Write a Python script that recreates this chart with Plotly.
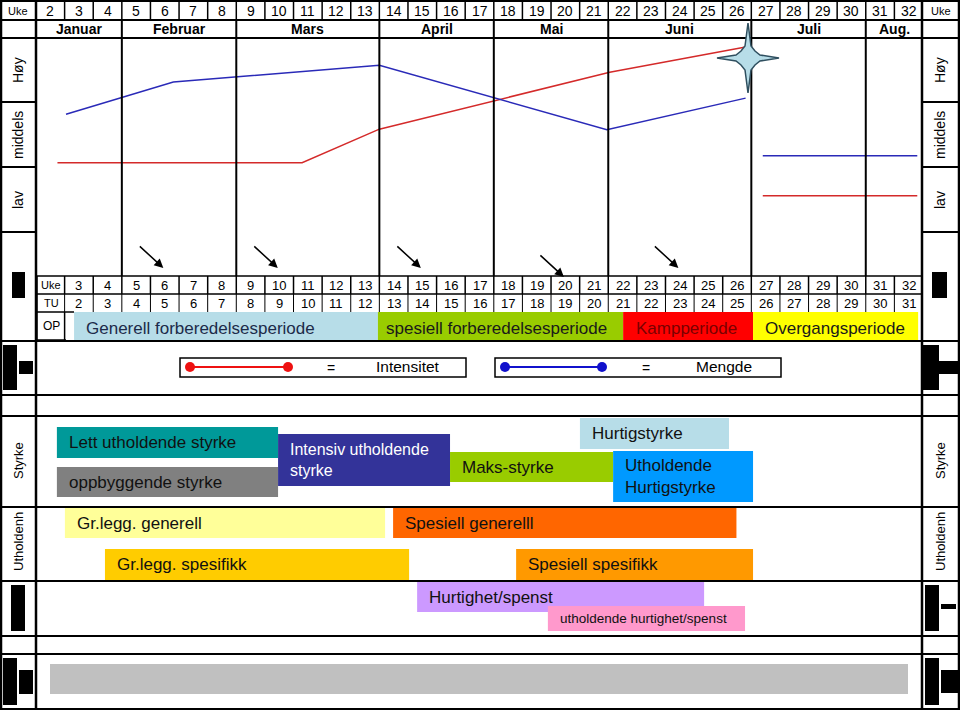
import plotly.graph_objects as go

# ---------------- data ----------------
WEEKS_TOP = list(range(2, 33))
WEEKS_MID = list(range(3, 33))
TU_WEEKS = list(range(2, 32))
MONTHS = ["Januar", "Februar", "Mars", "April", "Mai", "Juni", "Juli", "Aug."]
MONTH_FIRST = [2, 5, 9, 14, 18, 22, 27, 31]
MONTH_LAST = [4, 8, 13, 17, 21, 26, 30, 32]

# intensity (red) and volume (blue); level 0..3 (lav / middels / høy)
RED_W = [2.25, 10.8, 13.5, 21.55, 26.3]
RED_L = [1.07, 1.07, 1.59, 2.47, 2.86]
BLUE_W = [2.55, 6.3, 13.5, 21.45, 26.3]
BLUE_L = [1.82, 2.32, 2.58, 1.58, 2.07]
TRANS_W = [26.9, 32.3]
TRANS_RED = [0.56, 0.56]
TRANS_BLUE = [1.18, 1.18]

ARROW_WEEKS = [6, 10, 15, 20, 24]

PERIODS = ["Generell forberedelsesperiode", "spesiell forberedelsesperiode",
           "Kampperiode", "Overgangsperiode"]
PERIOD_START = [2.83, 13.45, 22.02, 26.56]
PERIOD_END = [13.45, 22.02, 26.56, 32.33]
PERIOD_COLORS = ["#b7dde8", "#99cc00", "#ff0000", "#ffff00"]
PERIOD_TEXT = ["#1c2b4a", "#1a1a1a", "#7a0000", "#1a1a1a"]
PERIOD_PAD = [10, 6, 11, 10]

BLOCKS = ["Lett utholdende styrke", "oppbyggende styrke", "Intensiv utholdende<br>styrke",
          "Maks-styrke", "Hurtigstyrke", "Utholdende<br>Hurtigstyrke",
          "Gr.legg. generell", "Spesiell generelll", "Gr.legg. spesifikk",
          "Spesiell spesifikk", "Hurtighet/spenst", "utholdende hurtighet/spenst"]
BLOCK_START = [2.23, 2.23, 9.96, 15.97, 20.51, 21.67, 2.51, 13.98, 3.91, 18.28, 14.82, 19.39]
BLOCK_END = [9.96, 9.96, 15.97, 21.67, 25.72, 26.56, 13.70, 25.98, 14.54, 26.56, 24.85, 26.28]
BLOCK_TOP = [427, 467, 434, 452, 418, 451, 508, 508, 549, 549, 582, 606]
BLOCK_BOT = [458, 497, 486, 482, 449, 502, 538, 538, 580, 580, 612, 631]
BLOCK_COLORS = ["#009999", "#808080", "#333399", "#99cc00", "#b7dde8", "#0099ff",
                "#ffff99", "#ff6600", "#ffcc00", "#ff9900", "#cc99ff", "#ff99cc"]
BLOCK_TEXT = ["#111111", "#111111", "#ffffff", "#111111", "#111111", "#111111",
              "#111111", "#111111", "#111111", "#111111", "#111111", "#111111"]
BLOCK_SIZE = [17, 17, 16, 17, 17, 17, 17, 17, 17, 17, 17, 13.5]

SIDE_LABELS = ["Høy", "middels", "lav", "Styrke", "Utholdenh"]
SIDE_LABEL_Y = [70, 135, 200, 461, 542]

# ---------------- geometry helpers ----------------
W, H = 960, 713
WEEK_PX = 887 / 31.0


def px2w(px):
    return 1.5 + (px - 36) / WEEK_PX


FONT = "Liberation Sans, Arial, sans-serif"
shapes = []
ann = []


def hline(y, px0, px1, w=2):
    shapes.append(dict(type="line", xref="x", yref="y", x0=px2w(px0), x1=px2w(px1),
                       y0=y, y1=y, line=dict(color="black", width=w)))


def vline_w(xw, y0, y1, w=1.5):
    shapes.append(dict(type="line", xref="x", yref="y", x0=xw, x1=xw,
                       y0=y0, y1=y1, line=dict(color="black", width=w)))


def rect(xw0, xw1, y0, y1, fill, line=None, lw=0):
    shapes.append(dict(type="rect", xref="x", yref="y", x0=xw0, x1=xw1, y0=y0, y1=y1,
                       fillcolor=fill, line=dict(color=line or fill, width=lw), layer="below"))


def text(xw, y, s, size=13, color="black", anchor="center", angle=0):
    ann.append(dict(x=xw, y=y, xref="x", yref="y", text=s, showarrow=False,
                    xanchor=anchor, yanchor="middle", textangle=angle,
                    font=dict(family=FONT, size=size, color=color)))


# ---------------- coloured blocks ----------------
for s, e, c in zip(PERIOD_START, PERIOD_END, PERIOD_COLORS):
    rect(s, e, 312, 342, c)
for name, s, tc, pad in zip(PERIODS, PERIOD_START, PERIOD_TEXT, PERIOD_PAD):
    text(s + pad / WEEK_PX, 328, name, size=17, color=tc, anchor="left")

for name, s, e, t, b, c, tc, fs in zip(BLOCKS, BLOCK_START, BLOCK_END, BLOCK_TOP, BLOCK_BOT,
                                       BLOCK_COLORS, BLOCK_TEXT, BLOCK_SIZE):
    rect(s, e, t, b, c)
    ann.append(dict(x=s + 10 / WEEK_PX, y=(t + b) / 2, xref="x", yref="y", text=name,
                    showarrow=False, xanchor="left", yanchor="middle", align="left",
                    font=dict(family=FONT, size=fs, color=tc)))

# grey bottom bar
rect(px2w(50), px2w(908), 664, 694, "#c0c0c0")

# ---------------- frame ----------------
for y in [1, 20, 38, 341, 395, 416, 507, 581, 636, 654, 709]:
    hline(y, 0, 960, 2)
for y in [102, 167, 232]:
    hline(y, 0, 36, 2)
    hline(y, 922, 960, 2)
hline(276, 36, 922, 1.5)
hline(294, 36, 922, 1.5)
hline(312, 36, 74, 1.5)
for xp in [1, 36, 922, 959]:
    vline_w(px2w(xp), 0, 709, 2.5)

# top week row
for wk in WEEKS_TOP:
    vline_w(wk - 0.5, 1, 20, 1.5)
    text(wk, 10.5, str(wk), size=14)
text(px2w(18), 10.5, "Uke", size=11)
text(px2w(941), 10.5, "Uke", size=11)

# month row + vertical panel lines
for m, f, l in zip(MONTHS, MONTH_FIRST, MONTH_LAST):
    vline_w(f - 0.5, 20, 38, 2)
    text((f + l) / 2, 29, "<b>" + m + "</b>", size=14)
    if f > 2:
        vline_w(f - 0.5, 38, 276, 2)

# middle week rows
for wk in WEEKS_MID:
    vline_w(wk - 0.5, 276, 294, 1.5)
    vline_w(wk - 0.5, 294, 312, 1)
    text(wk, 285, str(wk), size=13)
for wk, tu in zip(WEEKS_MID, TU_WEEKS):
    text(wk, 303, str(tu), size=13)
vline_w(px2w(37), 276, 340, 1.5)
vline_w(2.5, 312, 340, 1.5)
hline(340, 36, 66, 1.5)
text(px2w(51), 285, "Uke", size=11)
text(px2w(51), 303, "TU", size=11)
text(px2w(51), 326, "OP", size=12)

# side labels
for lab, y in zip(SIDE_LABELS, SIDE_LABEL_Y):
    sz = 14 if lab not in ("Styrke", "Utholdenh") else 13
    text(px2w(18), y, lab, size=sz, angle=-90)
    text(px2w(940), y, lab, size=sz, angle=-90)

# black side marks
for (a, b, c, d) in [(12, 25, 272, 298), (3, 17, 345, 390), (19, 33, 361, 374),
                     (11, 25, 585, 631), (3, 17, 658, 705), (19, 33, 670, 694),
                     (932, 947, 272, 298), (923, 939, 345, 390), (939, 958, 361, 374),
                     (925, 939, 585, 631), (941, 956, 604, 609),
                     (925, 939, 658, 705), (941, 958, 670, 693)]:
    shapes.append(dict(type="rect", xref="x", yref="y", x0=px2w(a), x1=px2w(b), y0=c, y1=d,
                       fillcolor="black", line=dict(width=0)))

# legend boxes
shapes.append(dict(type="rect", xref="x", yref="y", x0=px2w(180), x1=px2w(466), y0=358, y1=377,
                   line=dict(color="black", width=1.5)))
shapes.append(dict(type="rect", xref="x", yref="y", x0=px2w(495), x1=px2w(781), y0=358, y1=377,
                   line=dict(color="black", width=1.5)))
text(px2w(331), 368, "=", size=14)
text(px2w(408), 366, "Intensitet", size=15.5)
text(px2w(646), 368, "=", size=14)
text(px2w(724), 366, "Mengde", size=15.5)

# arrows
for wk in ARROW_WEEKS:
    ty = 277 if wk == 20 else 268
    ann.append(dict(x=wk - 0.05, y=ty, xref="x", yref="y", ax=-25, ay=-23, axref="pixel",
                    ayref="pixel", showarrow=True, arrowhead=2, arrowsize=1.2,
                    arrowwidth=1.5, arrowcolor="black", text=""))

# star (four-pointed, slightly concave sides)
cx, cy = 748, 58
pts = [(0, -35), (3, -12), (7, -7), (12, -3), (31, 0), (12, 3), (7, 7), (3, 12),
       (0, 35), (-3, 12), (-7, 7), (-12, 3), (-31, 0), (-12, -3), (-7, -7), (-3, -12)]
path = "M " + " L ".join(f"{px2w(cx + dx):.4f},{cy + dy}" for dx, dy in pts) + " Z"
star_shape = dict(type="path", xref="x", yref="y", path=path, fillcolor="#b7dde8",
                  line=dict(color="#2f4f5f", width=1.5))

fig = go.Figure()
fig.add_trace(go.Scatter(x=RED_W, y=RED_L, yaxis="y2", mode="lines",
                         line=dict(color="#d42a2a", width=1.5), hoverinfo="skip"))
fig.add_trace(go.Scatter(x=BLUE_W, y=BLUE_L, yaxis="y2", mode="lines",
                         line=dict(color="#2a2ab8", width=1.5), hoverinfo="skip"))
fig.add_trace(go.Scatter(x=TRANS_W, y=TRANS_RED, yaxis="y2", mode="lines",
                         line=dict(color="#d42a2a", width=1.5), hoverinfo="skip"))
fig.add_trace(go.Scatter(x=TRANS_W, y=TRANS_BLUE, yaxis="y2", mode="lines",
                         line=dict(color="#2a2ab8", width=1.5), hoverinfo="skip"))
# legend samples
fig.add_trace(go.Scatter(x=[px2w(190), px2w(288)], y=[367, 367], mode="lines+markers",
                         line=dict(color="#ee1111", width=2),
                         marker=dict(color="#ee1111", size=10), hoverinfo="skip"))
fig.add_trace(go.Scatter(x=[px2w(505), px2w(602)], y=[367, 367], mode="lines+markers",
                         line=dict(color="#1111cc", width=2),
                         marker=dict(color="#1111cc", size=10), hoverinfo="skip"))

shapes.append(star_shape)

fig.update_layout(
    width=W, height=H, margin=dict(l=0, r=0, t=0, b=0),
    paper_bgcolor="white", plot_bgcolor="white", showlegend=False,
    xaxis=dict(range=[px2w(0), px2w(960)], visible=False, fixedrange=True),
    yaxis=dict(range=[H, 0], visible=False, fixedrange=True),
    yaxis2=dict(range=[0, 3], domain=[1 - 232 / H, 1 - 38 / H], anchor="x",
                visible=False, fixedrange=True),
    shapes=shapes, annotations=ann,
)
fig.write_html("out.html")
